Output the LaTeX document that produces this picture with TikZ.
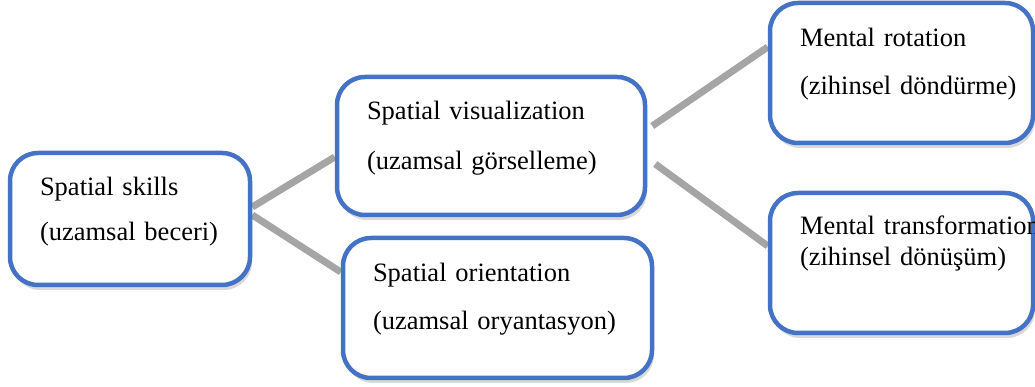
\documentclass[tikz,border=0pt]{standalone}
\usepackage{fontspec}
\setmainfont{Liberation Serif}
\usepackage{tikz}
\usetikzlibrary{shadows,backgrounds}
\definecolor{boxblue}{HTML}{4472C4}
\definecolor{linegray}{HTML}{A5A5A5}

\begin{document}
\begin{tikzpicture}[x=1pt, y=1pt,
  main/.style = {draw=boxblue, line width=4.5pt, rounded corners=28pt, fill=white,
    drop shadow={shadow xshift=2pt, shadow yshift=-5pt, opacity=.3},
    align=left, inner xsep=30pt, inner ysep=0pt, text height=43pt,
    font=\fontsize{26.5}{31}\selectfont},
  link/.style = {draw=linegray, line width=7pt,
    preaction={draw=black!40, opacity=.4, transform canvas={xshift=1pt, yshift=-2pt}}}]
\useasboundingbox (0,0) rectangle (1035,387);
\node[main, text width=180pt, text depth=89pt] (1) at (130,168) {Spatial skills\\[14pt](uzamsal beceri)};
\node[main, text width=248pt, text depth=95pt] (2) at (491,241) {Spatial visualization\\[19pt](uzamsal görselleme)};
\node[main, text width=249pt, text height=44pt, text depth=96pt] (3) at (497.5,79) {Spatial orientation\\[17pt](uzamsal oryantasyon)};
\node[main, text width=203pt, text height=44pt, text depth=96pt] (4) at (901.5,314) {Mental rotation\\[17pt]\mbox{(zihinsel döndürme)}};
\node[main, text width=203pt, text height=42pt, text depth=98pt] (5) at (901.5,124) {\mbox{Mental transformation}\\\mbox{(zihinsel dönüşüm)}};
\begin{scope}[on background layer]
\draw[link] ([yshift=12pt]1.east) -- ([yshift=-11pt]2.west);
\draw[link] ([yshift=4pt]1.east) -- ([yshift=36pt]3.west);
\draw[link] ([shift={(5pt,20pt)}]2.east) -- ([yshift=26pt]4.west);
\draw[link] ([shift={(8pt,-18pt)}]2.east) -- ([yshift=17pt]5.west);
\end{scope}
\end{tikzpicture}
\end{document}
